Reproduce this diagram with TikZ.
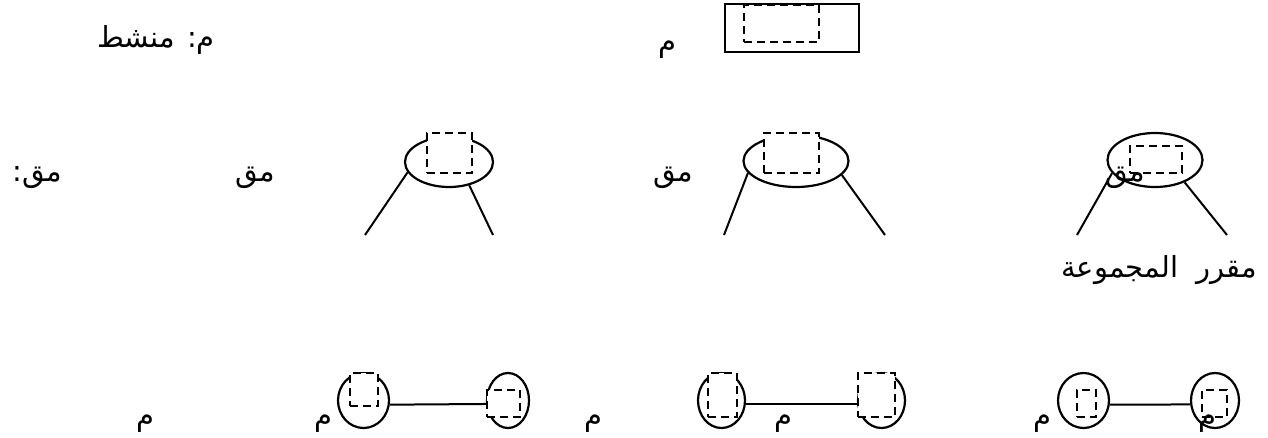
\documentclass[tikz,border=0pt]{standalone}
\usepackage{fontspec}
\newfontfamily\arabicfont[Script=Arabic]{DejaVu Sans}
\TeXXeTstate=1
\usetikzlibrary{shapes.geometric}
\begin{document}
\begin{tikzpicture}[x=1pt,y=-1pt,
  lbl/.style={font=\arabicfont\fontsize{29}{34}\selectfont, inner sep=0, anchor=base east},
  oval/.style n args={2}{draw, ellipse, line width=2.2pt, minimum width=#1, minimum height=#2, inner sep=0},
  dbox/.style n args={2}{draw, fill=white, line width=2.2pt, dash pattern=on 8pt off 5pt, minimum width=#1, minimum height=#2, inner sep=0},
  conn/.style={line width=2pt}]
\useasboundingbox (0,0) rectangle (1268,437);

% top legend
\node[draw, line width=2.2pt, minimum width=134pt, minimum height=48pt, inner sep=0] (box) at (792,28) {};
\node[dbox={75pt}{37pt}] (boxin) at (781.5,23.5) {};
\node[lbl] (legm) at (215,47) {\beginR م: منشط\endR};
\node[lbl] (topm) at (677,51) {\beginR م\endR};

% row 2
\node[oval={88pt}{50pt}] (e1) at (449,162) {};
\node[dbox={45pt}{40pt}] (r1) at (449.5,153) {};
\node[oval={105pt}{52pt}] (e2) at (796,161) {};
\node[dbox={55pt}{40pt}] (r2) at (791.5,153) {};
\node[oval={95pt}{54pt}] (e3) at (1155,160) {};
\node[dbox={52pt}{27pt}] (r3) at (1156,159.5) {};
\coordinate (l1a) at (365,235);
\coordinate (l1b) at (493,235);
\coordinate (l2a) at (724,235);
\coordinate (l2b) at (885,235);
\coordinate (l3a) at (1077,235);
\coordinate (l3b) at (1227,235);
\draw[conn] (e1.194) -- (l1a);
\draw[conn] (e1.311) -- (l1b);
\draw[conn] (e2.194) -- (l2a);
\draw[conn] (e2.343) -- (l2b);
\draw[conn] (e3.197) -- (l3a);
\draw[conn] (e3.323) -- (l3b);
\node[lbl] (mq0) at (62,181) {\beginR مق:\endR};
\node[lbl] (mq1) at (275,181) {\beginR مق\endR};
\node[lbl] (mq2) at (693,181) {\beginR مق\endR};
\node[lbl] (mq3) at (1145,181) {\beginR مق\endR};
\node[lbl] (grp) at (1257,277) {\beginR مقرر\ \ المجموعة\endR};

% row 3
\node[oval={51pt}{55pt}] (A) at (363.5,400.5) {};
\node[oval={42pt}{55pt}] (B) at (508,400.5) {};
\node[oval={47pt}{55pt}] (C) at (721.5,400.5) {};
\node[oval={47pt}{55pt}] (D) at (881.5,400.5) {};
\node[oval={51pt}{55pt}] (E) at (1083.5,400.5) {};
\node[oval={48pt}{55pt}] (F) at (1215,400.5) {};
\draw[conn] (A.-9) -- (B.189);
\draw[conn] (C.-9) -- (D.189);
\draw[conn] (E.-9) -- (F.189);
\node[dbox={28pt}{33pt}] (rA) at (364,389.5) {};
\node[dbox={33pt}{27pt}] (rB) at (503.5,403.5) {};
\node[dbox={29pt}{44pt}] (rC) at (722.5,395) {};
\node[dbox={37pt}{44pt}] (rD) at (876.5,395) {};
\node[dbox={19pt}{27pt}] (rE) at (1086.5,403.5) {};
\node[dbox={25pt}{27pt}] (rF) at (1214.5,403.5) {};
\node[lbl] (m1) at (155,425) {\beginR م\endR};
\node[lbl] (m2) at (333,425) {\beginR م\endR};
\node[lbl] (m3) at (603,425) {\beginR م\endR};
\node[lbl] (m4) at (793,425) {\beginR م\endR};
\node[lbl] (m5) at (1052,425) {\beginR م\endR};
\node[lbl] (m6) at (1217,425) {\beginR م\endR};
\end{tikzpicture}
\end{document}
